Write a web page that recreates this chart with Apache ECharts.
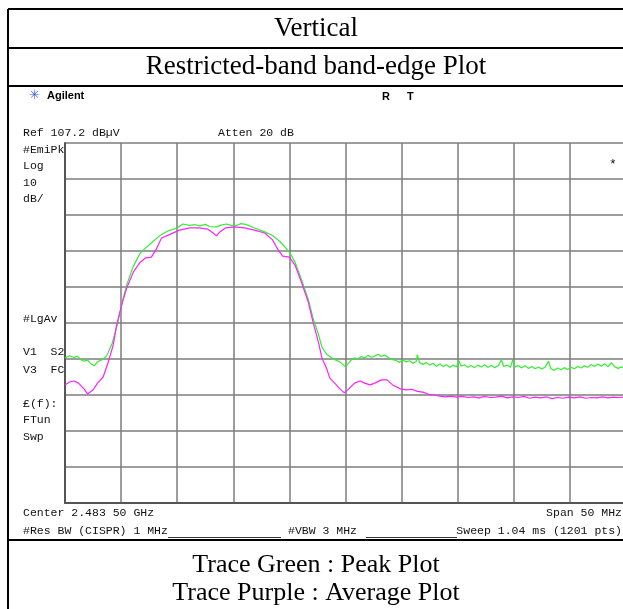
<!DOCTYPE html>
<html>
<head>
<meta charset="utf-8">
<script src="https://cdn.jsdelivr.net/npm/echarts@6/dist/echarts.min.js"></script>
<style>
  html, body { margin: 0; padding: 0; background: #fff; overflow: hidden; }
  #main { width: 640px; height: 609px; }
</style>
</head>
<body>
<div id="main"></div>
<script>
// analyser settings
const centerMHz = 2483.5;
const spanMHz = 50;
const refLevel = 107.2;   // dBuV at top of graticule, 10 dB/div

// peak trace (green), MHz / dBuV
const peakFreq = [
  2458.5, 2458.9, 2459.3, 2459.6, 2459.9, 2460.2, 2460.5, 2460.8, 2461.1, 2461.4,
  2461.8, 2462.2, 2462.7, 2463.1, 2463.6, 2464.0, 2464.6, 2465.2, 2465.6, 2466.3,
  2467.0, 2467.7, 2468.5, 2469.0, 2469.6, 2470.1, 2470.5, 2471.0, 2471.4, 2472.0,
  2472.4, 2472.9, 2473.3, 2473.7, 2474.2, 2474.6, 2475.4, 2476.3, 2477.0, 2477.7,
  2478.5, 2479.0, 2479.6, 2480.2, 2480.6, 2481.1, 2481.4, 2481.8, 2482.4, 2483.0,
  2483.5, 2484.0, 2484.3, 2484.6, 2484.9, 2485.2, 2485.5, 2485.8, 2486.1, 2486.4,
  2486.7, 2487.0, 2487.3, 2487.6, 2488.0, 2488.3, 2488.6, 2488.9, 2489.2, 2489.5,
  2489.8, 2489.9, 2490.1, 2490.4, 2490.7, 2491.0, 2491.3, 2491.6, 2491.9, 2492.2,
  2492.5, 2492.8, 2493.1, 2493.4, 2493.6, 2493.8, 2494.1, 2494.4, 2494.7, 2495.0,
  2495.3, 2495.6, 2495.9, 2496.2, 2496.5, 2496.8, 2497.1, 2497.4, 2497.6, 2497.9,
  2498.2, 2498.4, 2498.6, 2498.9, 2499.2, 2499.5, 2499.8, 2500.1, 2500.4, 2500.7,
  2501.0, 2501.3, 2501.6, 2501.8, 2502.1, 2502.4, 2502.7, 2503.0, 2503.3, 2503.6,
  2503.9, 2504.2, 2504.5, 2504.8, 2505.1, 2505.4, 2505.7, 2506.0, 2506.3, 2506.6,
  2506.9, 2507.2, 2507.5, 2507.8, 2508.1, 2508.5
];
const peakLevel = [
  47.5, 48.1, 47.6, 48.0, 47.1, 46.6, 46.9, 45.9, 45.3, 46.4,
  47.0, 48.0, 51.5, 56.0, 63.0, 67.8, 73.0, 76.6, 77.8, 79.7,
  81.6, 82.8, 83.6, 84.7, 84.3, 84.5, 84.2, 84.6, 84.0, 83.9,
  84.4, 84.7, 84.3, 84.2, 84.8, 84.6, 83.6, 82.5, 81.5, 79.7,
  76.9, 74.1, 69.1, 63.6, 58.6, 53.9, 50.5, 48.6, 47.2, 46.4,
  45.0, 46.9, 47.5, 47.2, 47.9, 47.5, 48.2, 47.7, 48.0, 48.5,
  47.9, 48.3, 47.6, 47.1, 46.8, 46.2, 46.9, 46.4, 46.7, 46.0,
  46.5, 48.4, 46.2, 45.7, 46.2, 45.5, 46.0, 45.2, 45.8, 45.1,
  45.6, 44.9, 45.5, 45.0, 46.8, 45.2, 45.6, 44.9, 45.4, 44.8,
  45.5, 45.0, 45.6, 44.9, 45.4, 44.8, 45.3, 47.0, 45.1, 45.5,
  44.9, 46.9, 45.0, 45.4, 44.7, 45.3, 44.6, 45.1, 44.5, 45.0,
  44.4, 45.0, 46.6, 44.5, 44.1, 44.7, 44.2, 44.8, 44.3, 44.9,
  44.5, 45.1, 44.7, 45.3, 44.9, 45.7, 45.1, 45.8, 45.2, 45.9,
  45.0, 46.2, 45.0, 44.6, 45.0, 44.5
];

// average trace (purple)
const avgFreq = [
  2458.5, 2458.9, 2459.3, 2459.7, 2460.2, 2460.5, 2461.0, 2461.4, 2461.9, 2462.3,
  2462.8, 2463.1, 2463.6, 2464.0, 2464.6, 2465.2, 2465.7, 2466.2, 2466.6, 2467.1,
  2467.9, 2468.7, 2469.6, 2470.5, 2471.2, 2471.7, 2472.0, 2472.3, 2472.8, 2473.6,
  2474.5, 2475.4, 2476.3, 2477.0, 2477.5, 2477.9, 2478.5, 2479.0, 2479.6, 2480.2,
  2480.6, 2481.1, 2481.4, 2481.8, 2482.1, 2482.6, 2483.0, 2483.4, 2483.8, 2484.3,
  2484.8, 2485.2, 2485.7, 2486.1, 2486.7, 2487.2, 2487.7, 2488.4, 2488.9, 2489.4,
  2489.9, 2490.4, 2490.9, 2491.4, 2491.9, 2492.4, 2492.9, 2493.4, 2493.9, 2494.4,
  2494.9, 2495.4, 2495.9, 2496.4, 2496.9, 2497.4, 2497.9, 2498.4, 2498.9, 2499.4,
  2499.9, 2500.4, 2500.9, 2501.4, 2501.9, 2502.4, 2502.9, 2503.4, 2503.9, 2504.4,
  2504.9, 2505.4, 2505.9, 2506.4, 2506.9, 2507.4, 2507.9, 2508.5
];
const avgLevel = [
  40.0, 40.8, 41.1, 40.5, 38.9, 37.5, 38.6, 40.5, 42.2, 45.8,
  51.1, 56.6, 62.8, 66.9, 71.4, 74.1, 75.3, 75.5, 77.5, 80.8,
  81.9, 83.0, 83.6, 83.6, 83.3, 82.2, 81.4, 82.5, 83.6, 83.9,
  83.6, 83.0, 82.2, 80.3, 77.5, 75.8, 75.5, 73.3, 68.3, 62.8,
  57.5, 51.7, 47.5, 44.7, 41.9, 40.3, 38.9, 37.8, 38.9, 40.5,
  41.1, 40.5, 40.0, 40.5, 41.4, 41.4, 40.0, 38.9, 38.6, 38.8,
  38.2, 38.0, 37.4, 37.2, 36.9, 36.7, 36.9, 36.6, 36.8, 36.5,
  36.7, 36.4, 36.8, 36.5, 36.6, 36.9, 36.4, 36.7, 36.5, 36.8,
  36.3, 36.6, 36.4, 36.7, 36.2, 36.5, 36.3, 36.6, 36.4, 36.7,
  36.3, 36.5, 36.4, 36.7, 36.4, 36.6, 36.5, 36.7
];

// screen annotations of the analyser, left column
const leftNotes = [
  ['#EmiPk', 150], ['Log', 166], ['10', 183], ['dB/', 199],
  ['#LgAv', 319], ['V1  S2', 352], ['V3  FC', 370],
  ['\u00a3(f):', 404], ['FTun', 420], ['Swp', 437]
];

// plot coordinates: offset from centre frequency, offset from ref level
const toPts = (fs, ls) => fs.map((f, i) => [f - centerMHz, ls[i] - refLevel]);

const mono = '11.5px "Liberation Mono", "DejaVu Sans Mono", monospace';
const serif = '"Liberation Serif", "Times New Roman", serif';

const txt = (text, x, y, extra) => ({
  type: 'text', silent: true,
  style: Object.assign({ text: text, x: x, y: y, font: mono, fill: '#111', verticalAlign: 'middle' }, extra || {})
});
const hline = (x1, x2, y, w, c) => ({
  type: 'line', silent: true,
  shape: { x1: x1, y1: y, x2: x2, y2: y },
  style: { stroke: c || '#000', lineWidth: w }
});

let chart = echarts.init(document.getElementById('main'));

let graphics = [
  // table borders
  { type: 'line', silent: true, shape: { x1: 8, y1: 9, x2: 8, y2: 609 }, style: { stroke: '#000', lineWidth: 2 } },
  hline(8, 640, 9, 2),
  hline(8, 640, 48, 2),
  hline(8, 640, 86, 2),
  hline(8, 640, 540, 2),
  // headings
  { type: 'text', silent: true, style: { text: 'Vertical', x: 316, y: 29, align: 'center', verticalAlign: 'middle', font: '27px ' + serif, fill: '#000' } },
  { type: 'text', silent: true, style: { text: 'Restricted-band band-edge Plot', x: 316, y: 67, align: 'center', verticalAlign: 'middle', font: '27px ' + serif, fill: '#000' } },
  { type: 'text', silent: true, style: { text: 'Trace Green : Peak Plot', x: 316, y: 565, align: 'center', verticalAlign: 'middle', font: '26px ' + serif, fill: '#000' } },
  { type: 'text', silent: true, style: { text: 'Trace Purple : Average Plot', x: 316, y: 593, align: 'center', verticalAlign: 'middle', font: '26px ' + serif, fill: '#000' } },
  // analyser screen header
  txt('\u2733', 29, 96, { font: '13px "DejaVu Sans"', fill: '#4060e0' }),
  txt('Agilent', 47, 96, { font: 'bold 11px "Liberation Sans", Arial, sans-serif', fill: '#000' }),
  txt('R', 382, 97, { font: 'bold 11px "Liberation Sans", Arial, sans-serif', fill: '#000' }),
  txt('T', 407, 97, { font: 'bold 11px "Liberation Sans", Arial, sans-serif', fill: '#000' }),
  txt('Ref 107.2 dB\u00b5V', 23, 133),
  txt('Atten 20 dB', 218, 133),
  txt('*', 609, 165, { font: '13px "Liberation Mono", monospace' }),
  txt('Center 2.483 50 GHz', 23, 513),
  txt('Span 50 MHz', 622, 513, { align: 'right' }),
  txt('#Res BW (CISPR) 1 MHz', 23, 531),
  txt('#VBW 3 MHz', 288, 531),
  txt('Sweep 1.04 ms (1201 pts)', 622, 531, { align: 'right' }),
  hline(168, 281, 537.5, 1, '#333'),
  hline(366, 457, 537.5, 1, '#333')
];
leftNotes.forEach(n => graphics.push(txt(n[0], 23, n[1])));

let option = {
  animation: false,
  backgroundColor: '#fff',
  grid: { left: 65, right: 14, top: 143, bottom: 106 },
  xAxis: {
    type: 'value',
    min: -spanMHz / 2, max: spanMHz / 2, interval: 5,
    axisLabel: { show: false },
    axisTick: { show: false },
    axisLine: { show: true, onZero: false, lineStyle: { color: '#555', width: 2 } },
    splitLine: { show: true, lineStyle: { color: '#7c7c7c', width: 1.5 } }
  },
  yAxis: {
    type: 'value',
    min: -100, max: 0, interval: 10,
    axisLabel: { show: false },
    axisTick: { show: false },
    axisLine: { show: true, onZero: false, lineStyle: { color: '#555', width: 2 } },
    splitLine: { show: true, lineStyle: { color: '#7c7c7c', width: 1.5 } }
  },
  series: [
    {
      name: 'Peak', type: 'line', showSymbol: false, z: 3,
      data: toPts(peakFreq, peakLevel),
      lineStyle: { color: '#33ee33', width: 1.2 }
    },
    {
      name: 'Average', type: 'line', showSymbol: false, z: 4,
      data: toPts(avgFreq, avgLevel),
      lineStyle: { color: '#ff22ff', width: 1.2 }
    }
  ],
  graphic: graphics
};

chart.setOption(option);
</script>
</body>
</html>
